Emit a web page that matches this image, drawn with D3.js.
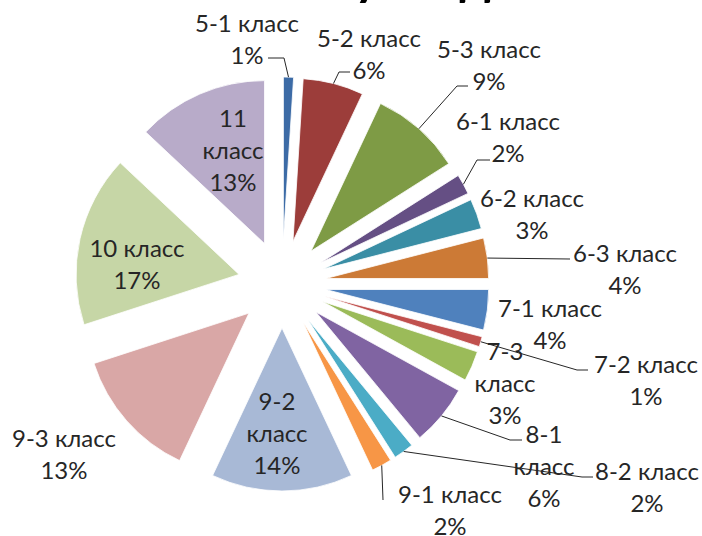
<!DOCTYPE html>
<html lang="ru">

<head>
    <meta charset="utf-8" />
    <title>Pie chart by class</title>
    <script src="https://d3js.org/d3.v7.min.js"></script>
    <style>
        body { margin: 0; background: #fff; }
        svg { display: block; }
        svg text { font-family: Lato, "Open Sans", sans-serif; }
    </style>
</head>

<body>
    <script>
        // data
        var categories = ["5-1 класс", "5-2 класс", "5-3 класс", "6-1 класс", "6-2 класс", "6-3 класс",
            "7-1 класс", "7-2 класс", "7-3 класс", "8-1 класс", "8-2 класс", "9-1 класс",
            "9-2 класс", "9-3 класс", "10 класс", "11 класс"];
        var values = [1, 6, 9, 2, 3, 4, 4, 1, 3, 6, 2, 2, 14, 13, 17, 13];
        var colors = ["#3c6ba6", "#9c3d3a", "#7e9b45", "#654f84", "#3a8ea5", "#cc7a36",
            "#4f81bd", "#c0504d", "#9bbb59", "#8064a2", "#4bacc6", "#f79646",
            "#a8b9d6", "#d9a7a6", "#c6d6a6", "#b8abc9"];
        var title = "Клубы детей";

        var w = 702;
        var h = 536;
        var cx = 282, cy = 284;
        var radius = 163;
        var explode = 44;

        // where excel put each label (centre of first line), plus leader bend/end points
        var labelLayout = {
            "5-1 класс": { x: 247, y: 22, lines: ["5-1 класс", "1%"], leader: [[284, 58], [268, 58]] },
            "5-2 класс": { x: 369, y: 37, lines: ["5-2 класс", "6%"], leader: [[339, 72], [350, 72]] },
            "5-3 класс": { x: 489, y: 48, lines: ["5-3 класс", "9%"], leader: [[457, 86], [468, 86]] },
            "6-1 класс": { x: 508, y: 120, lines: ["6-1 класс", "2%"], leader: [[477, 160], [490, 160]] },
            "6-2 класс": { x: 532, y: 197, lines: ["6-2 класс", "3%"] },
            "6-3 класс": { x: 625, y: 252, lines: ["6-3 класс", "4%"], leader: [[570, 259]] },
            "7-1 класс": { x: 550, y: 307, lines: ["7-1 класс", "4%"] },
            "7-2 класс": { x: 646, y: 363, lines: ["7-2 класс", "1%"], leader: [[577, 370], [588, 370]] },
            "7-3 класс": { x: 505, y: 350, lines: ["7-3", "класс", "3%"] },
            "8-1 класс": { x: 544, y: 433, lines: ["8-1", "класс", "6%"], leader: [[510, 440], [522, 440]] },
            "8-2 класс": { x: 647, y: 470, lines: ["8-2 класс", "2%"], leader: [[582, 477], [593, 477]] },
            "9-1 класс": { x: 450, y: 493, lines: ["9-1 класс", "2%"], leader: [[383, 500]] },
            "9-2 класс": { x: 277, y: 400, lines: ["9-2", "класс", "14%"] },
            "9-3 класс": { x: 64, y: 437, lines: ["9-3 класс", "13%"] },
            "10 класс": { x: 137, y: 247, lines: ["10 класс", "17%"] },
            "11 класс": { x: 233, y: 117, lines: ["11", "класс", "13%"] }
        };

        var svg = d3.select("body").append("svg").attr("width", w).attr("height", h);

        var data = categories.map(function (c, i) { return { name: c, value: values[i] }; });

        var color = d3.scaleOrdinal().domain(categories).range(colors);
        var pie = d3.pie().sort(null).value(function (d) { return d.value; });
        var arc = d3.arc().innerRadius(0).outerRadius(radius);
        var arcs = pie(data);

        function offset(d, dist) {
            var a = (d.startAngle + d.endAngle) / 2;
            return [Math.sin(a) * dist, -Math.cos(a) * dist];
        }

        // title, mostly cut off at the top of the picture; only the descenders show
        var tt = svg.append("text")
            .attr("x", 0)
            .attr("y", -5)
            .style("font-size", "50px")
            .style("font-weight", "bold")
            .style("fill", "#000")
            .text(title);
        var uPos = tt.node().getStartPositionOfChar(title.indexOf("у")).x;
        tt.attr("x", 354 - uPos);

        var g = svg.append("g").attr("transform", "translate(" + cx + "," + cy + ")");

        g.selectAll("path").data(arcs).enter().append("path")
            .attr("transform", function (d) {
                var o = offset(d, explode);
                return "translate(" + o[0] + "," + o[1] + ")";
            })
            .attr("d", arc)
            .style("fill", function (d) { return color(d.data.name); })
            .style("stroke", "#fff")
            .style("stroke-width", 0.8);

        // leader lines from the middle of each slice's outer edge
        arcs.forEach(function (d) {
            var lay = labelLayout[d.data.name];
            if (!lay.leader) return;
            var o = offset(d, explode + radius);
            var pts = [[cx + o[0], cy + o[1]]].concat(lay.leader);
            svg.append("path")
                .attr("d", d3.line()(pts))
                .style("fill", "none")
                .style("stroke", "#262626")
                .style("stroke-width", 1);
        });

        var lineH = 32;
        arcs.forEach(function (d) {
            var lay = labelLayout[d.data.name];
            var t = svg.append("text")
                .attr("text-anchor", "middle")
                .attr("dominant-baseline", "central")
                .style("font-size", "24px")
                .style("fill", "#262626");
            lay.lines.forEach(function (line, i) {
                t.append("tspan")
                    .attr("x", lay.x)
                    .attr("y", lay.y + i * lineH)
                    .text(line);
            });
        });
    </script>
</body>

</html>
